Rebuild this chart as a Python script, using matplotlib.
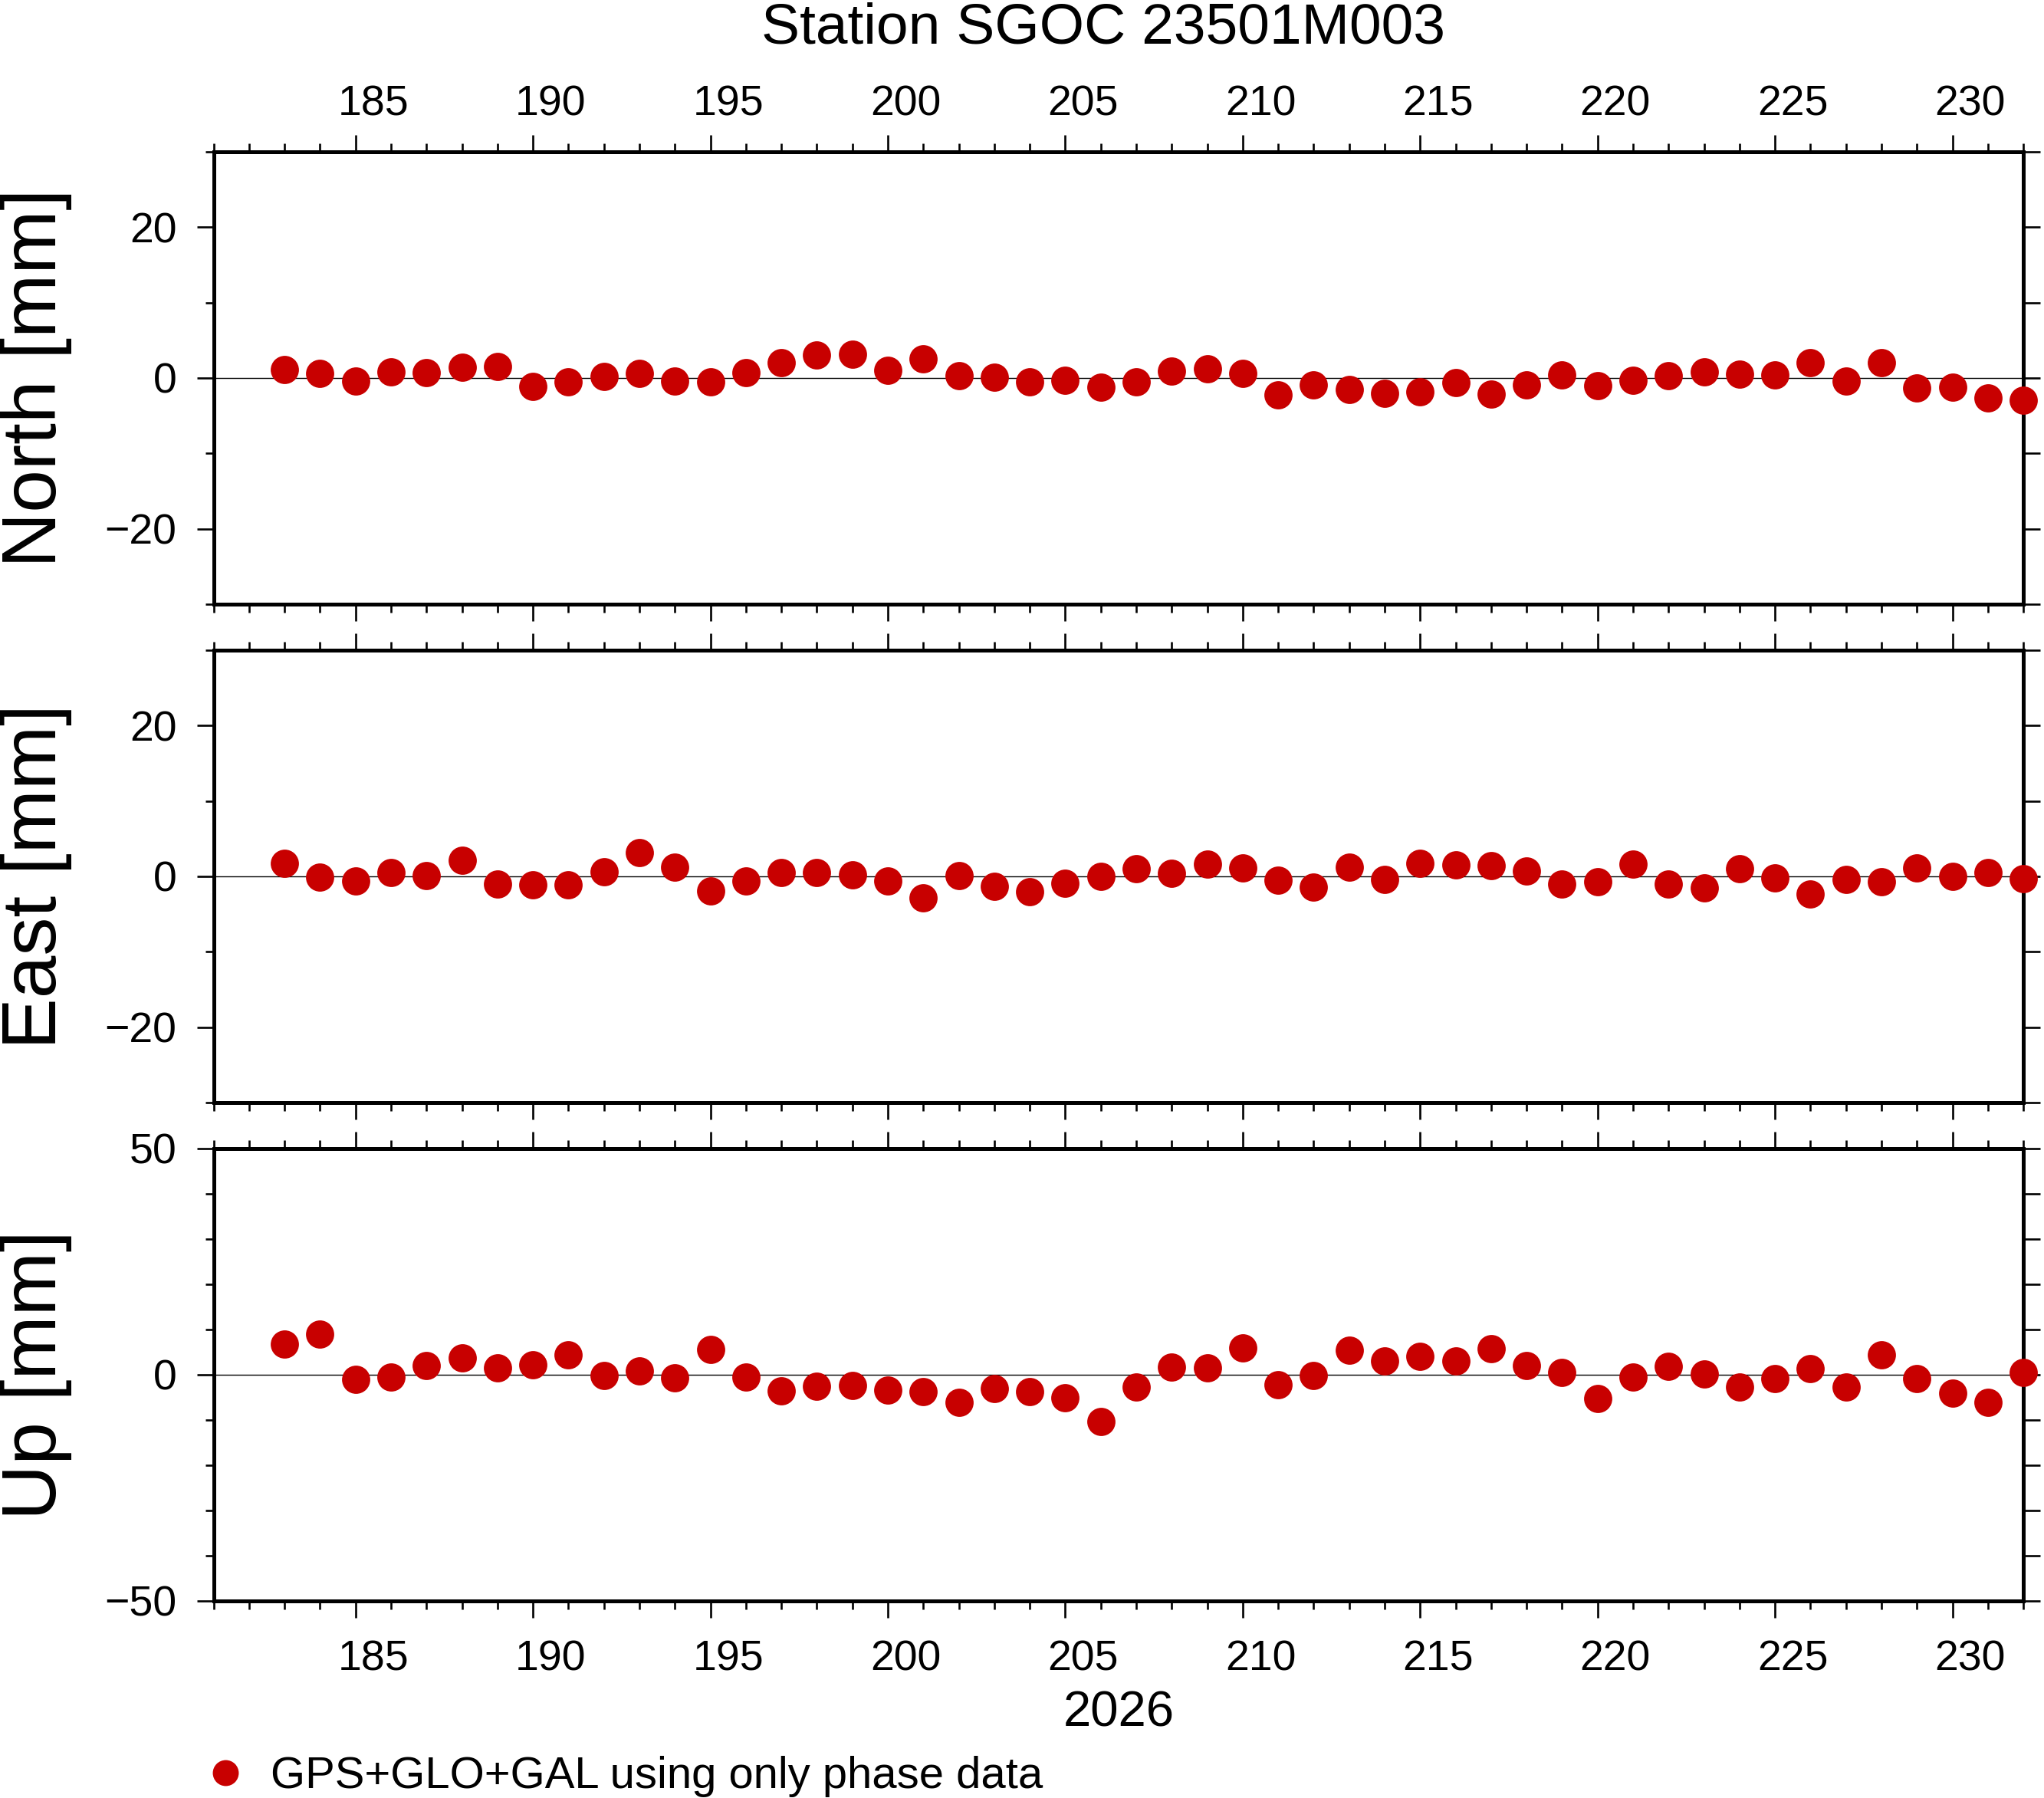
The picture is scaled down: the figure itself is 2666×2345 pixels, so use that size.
import numpy as np
import matplotlib
matplotlib.use("Agg")
import matplotlib.pyplot as plt
from matplotlib.ticker import MultipleLocator

plt.rcParams['font.family'] = ['Liberation Sans', 'DejaVu Sans']

# Daily solutions (day of year 2026) and residuals in mm
days = list(range(183, 233))

north = [1.09, 0.59, -0.42, 0.80, 0.71, 1.43, 1.51, -1.13, -0.50, 0.21,
         0.59, -0.42, -0.50, 0.71, 2.02, 3.03, 3.15, 1.00, 2.52, 0.29,
         0.08, -0.50, -0.29, -1.22, -0.50, 0.92, 1.22, 0.59, -2.23, -0.92,
         -1.51, -2.02, -1.81, -0.59, -2.14, -0.92, 0.42, -1.01, -0.29, 0.29,
         0.76, 0.55, 0.42, 2.02, -0.42, 2.02, -1.30, -1.22, -2.65, -2.98]

east = [1.73, -0.13, -0.63, 0.46, 0.08, 2.10, -1.05, -1.14, -1.14, 0.59,
        3.12, 1.18, -1.94, -0.63, 0.46, 0.46, 0.17, -0.63, -2.86, 0.08,
        -1.35, -2.06, -0.93, -0.04, 0.97, 0.38, 1.60, 1.09, -0.55, -1.43,
        1.18, -0.42, 1.68, 1.52, 1.39, 0.67, -1.05, -0.76, 1.60, -1.05,
        -1.56, 0.97, -0.21, -2.36, -0.42, -0.76, 1.09, -0.04, 0.46, -0.29]

up = [6.80, 8.97, -0.98, -0.49, 2.03, 3.71, 1.54, 2.17, 4.41, -0.14,
      0.84, -0.70, 5.61, -0.49, -3.57, -2.52, -2.38, -3.36, -3.71, -6.10,
      -3.01, -3.71, -5.05, -10.30, -2.66, 1.68, 1.54, 5.96, -2.17, -0.14,
      5.40, 3.08, 4.13, 3.08, 5.75, 2.03, 0.49, -5.26, -0.49, 1.89,
      0.21, -2.73, -0.84, 1.33, -2.66, 4.41, -0.84, -4.06, -6.10, 0.49]

components = ["North [mm]", "East [mm]", "Up [mm]"]
series = [north, east, up]
ylims = [(-30, 30), (-30, 30), (-50, 50)]
ymajor = [20, 20, 50]
xlabel_days = [185, 190, 195, 200, 205, 210, 215, 220, 225, 230]
year = "2026"
title = "Station SGOC 23501M003"
legend_label = "GPS+GLO+GAL using only phase data"
red = "#c80000"

fig = plt.figure(figsize=(26.66, 23.45), dpi=100)

# panel positions (figure fractions)
left, width, height = 0.1045, 0.8854, 0.2516
bottoms = [0.6640, 0.3868, 0.1096]
frame_lw = 3.6

axes = []
for i in range(3):
    ax = fig.add_axes([left, bottoms[i], width, height])
    ax.axhline(0, color='black', lw=1.0, zorder=1)
    line, = ax.plot(days, series[i], 'o', color=red, markersize=26.5,
                    markeredgewidth=0, clip_on=False, zorder=3,
                    label=legend_label)
    ax.set_xlim(181, 232)
    ax.set_ylim(*ylims[i])

    # x ticks: long every 5 days, short every day, on top and bottom
    ax.xaxis.set_major_locator(MultipleLocator(5))
    ax.xaxis.set_minor_locator(MultipleLocator(1))
    ax.tick_params(axis='x', which='both', direction='out', top=True, bottom=True,
                   labelbottom=False, labeltop=False, width=1.9)
    ax.tick_params(axis='x', which='major', length=15.8)
    ax.tick_params(axis='x', which='minor', length=7.9)

    # y ticks on the left
    ax.yaxis.set_major_locator(MultipleLocator(ymajor[i]))
    ax.yaxis.set_minor_locator(MultipleLocator(10))
    ax.tick_params(axis='y', which='both', direction='out', left=True, right=False,
                   width=1.9, labelsize=40, pad=19)
    ax.tick_params(axis='y', which='major', length=15.8)
    ax.tick_params(axis='y', which='minor', length=7.9)

    # right side: plain ticks every 10 mm
    sec = ax.secondary_yaxis('right')
    sec.set_yticks(np.arange(ylims[i][0], ylims[i][1] + 1, 10))
    sec.tick_params(axis='y', direction='out', length=15.8, width=1.9, labelright=False)
    sec.spines['right'].set_linewidth(frame_lw)

    for sp in ax.spines.values():
        sp.set_linewidth(frame_lw)

    # GMT style y label
    fig.text(47 / 2666, bottoms[i] + height / 2, components[i], rotation=90,
             ha='center', va='center', fontsize=72)
    axes.append(ax)

# day labels sit in the middle of each day interval
for d in xlabel_days:
    axes[0].annotate(str(d), xy=(d + 0.5, 1), xycoords=('data', 'axes fraction'),
                     xytext=(0, 33.8), textcoords='offset points',
                     ha='center', va='baseline', fontsize=40, annotation_clip=False)
    axes[2].annotate(str(d), xy=(d + 0.5, 0), xycoords=('data', 'axes fraction'),
                     xytext=(0, -65.5), textcoords='offset points',
                     ha='center', va='baseline', fontsize=40, annotation_clip=False)

fig.text(0.5473, 0.0397, year, ha='center', va='baseline', fontsize=47)
fig.text(0.5396, 0.9761, title, ha='center', va='baseline', fontsize=54)

fig.legend(handles=[line], loc='center left', bbox_to_anchor=(271 / 2666, 0.0120),
           frameon=False, fontsize=41.8, handlelength=0.8, handletextpad=0.62,
           borderpad=0, borderaxespad=0, markerscale=0.92, numpoints=1)

fig.savefig("out.png", dpi=100)
